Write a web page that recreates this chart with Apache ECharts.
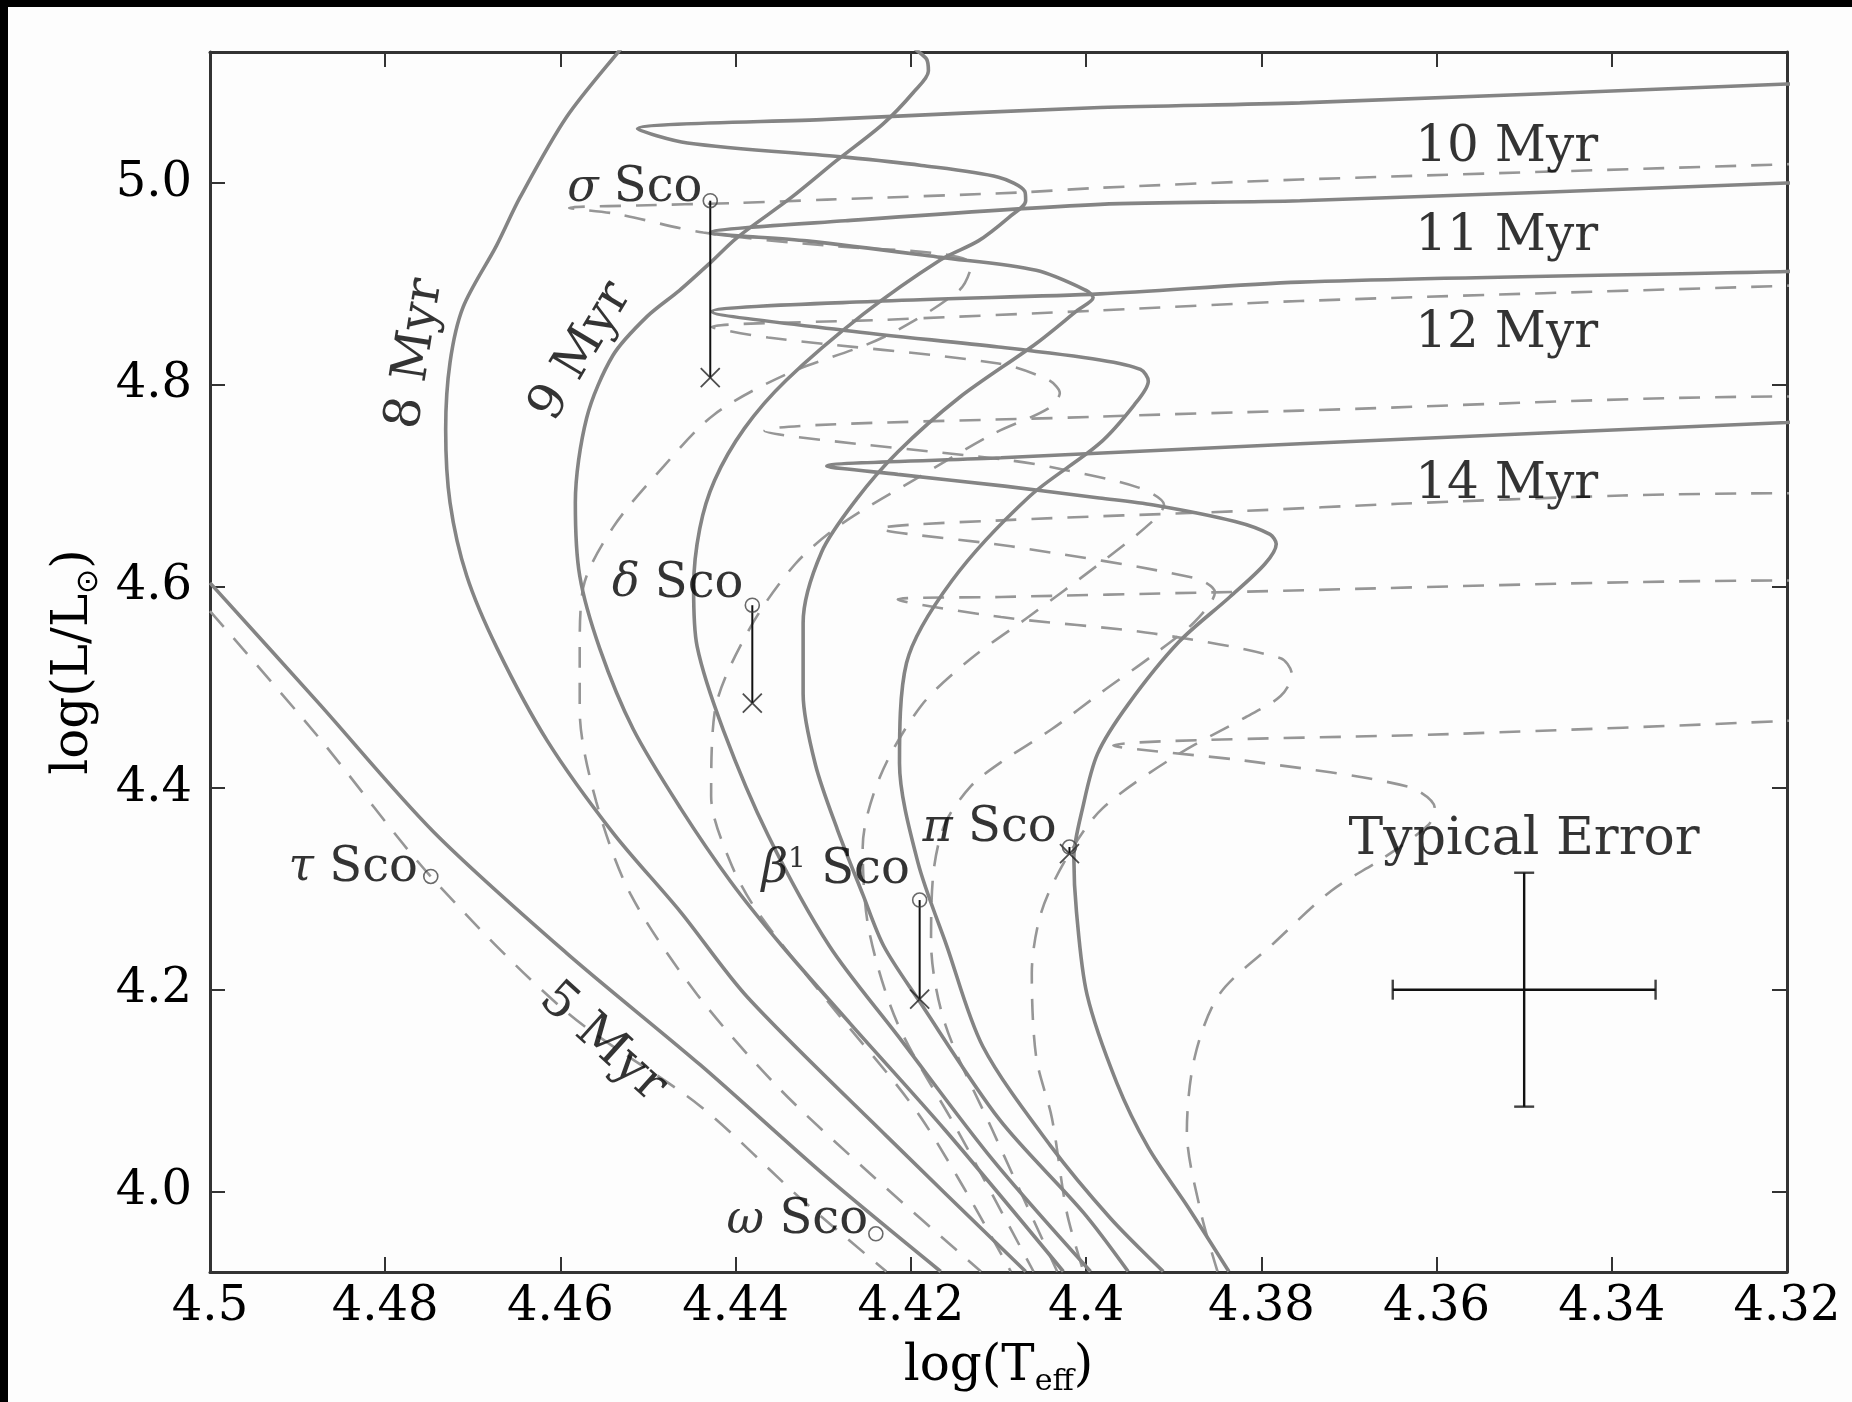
<!DOCTYPE html>
<html><head><meta charset="utf-8">
<script src="https://cdn.jsdelivr.net/npm/echarts@6/dist/echarts.min.js"></script>
<style>
html,body{margin:0;padding:0;background:#fff;}
#c{width:1852px;height:1402px;}
.bt{position:absolute;left:0;top:0;width:1852px;height:7px;background:#000;z-index:10}
.bl{position:absolute;left:0;top:0;width:8px;height:1402px;background:#000;z-index:10}
</style></head><body>
<div id="c"></div><div class="bt"></div><div class="bl"></div>
<script>
// ---- axis ticks ----
const xTicks = [4.5, 4.48, 4.46, 4.44, 4.42, 4.4, 4.38, 4.36, 4.34, 4.32];
const yTicks = [4.0, 4.2, 4.4, 4.6, 4.8, 5.0];

// ---- solid isochrones [logTeff, logL] ----
const iso5 = [[4.5000,4.6035],[4.4876,4.4842],[4.4745,4.3567],[4.4593,4.2363],[4.4440,4.1251],[4.4296,4.0140],[4.4166,3.9205]];
const iso8 = [[4.4521,5.1427],[4.4532,5.1322],[4.4593,5.0655],[4.4646,4.9860],[4.4673,4.9380],[4.4711,4.8772],[4.4726,4.8222],[4.4731,4.7556],[4.4726,4.6830],[4.4707,4.6105],[4.4672,4.5380],[4.4615,4.4468],[4.4540,4.3556],[4.4463,4.2772],[4.4387,4.1930],[4.4228,4.0550],[4.4069,3.9205]];
const iso9 = [[4.4208,5.1427],[4.4194,5.1322],[4.4182,5.1228],[4.4180,5.1111],[4.4197,5.0901],[4.4232,5.0585],[4.4285,5.0222],[4.4336,4.9860],[4.4398,4.9462],[4.4431,4.9193],[4.4464,4.8936],[4.4501,4.8678],[4.4540,4.8292],[4.4570,4.7673],[4.4583,4.6830],[4.4578,4.6105],[4.4555,4.5380],[4.4517,4.4585],[4.4463,4.3801],[4.4406,4.3076],[4.4347,4.2433],[4.4269,4.1661],[4.4161,4.0608],[4.4026,3.9205]];
const iso10 = [[4.3176,5.0994],[4.3200,5.0982],[4.3756,5.0795],[4.3984,5.0749],[4.4296,5.0632],[4.4512,5.0538],[4.4455,5.0398],[4.4275,5.0257],[4.4188,5.0175],[4.4100,5.0058],[4.4070,4.9918],[4.4069,4.9825],[4.4088,4.9661],[4.4123,4.9427],[4.4166,4.9240],[4.4254,4.8702],[4.4342,4.8047],[4.4390,4.7567],[4.4424,4.7053],[4.4441,4.6573],[4.4448,4.5988],[4.4444,4.5404],[4.4414,4.4573],[4.4363,4.3532],[4.4293,4.2433],[4.4215,4.1544],[4.4107,4.0316],[4.3995,3.9205]];
const iso11 = [[4.3176,5.0012],[4.3200,5.0000],[4.3756,4.9825],[4.3984,4.9789],[4.4275,4.9626],[4.4429,4.9509],[4.4319,4.9427],[4.4166,4.9263],[4.4057,4.9135],[4.4000,4.8936],[4.3992,4.8865],[4.4010,4.8737],[4.4057,4.8409],[4.4145,4.7871],[4.4215,4.7333],[4.4262,4.6865],[4.4302,4.6339],[4.4323,4.5637],[4.4323,4.4936],[4.4309,4.4234],[4.4284,4.3591],[4.4255,4.2947],[4.4231,4.2433],[4.4192,4.1907],[4.4099,4.0713],[4.4003,3.9789],[4.3952,3.9205]];
const iso12 = [[4.3176,4.9135],[4.3200,4.9123],[4.3756,4.9018],[4.3984,4.8901],[4.4232,4.8830],[4.4427,4.8725],[4.4275,4.8538],[4.4100,4.8374],[4.3984,4.8246],[4.3938,4.8152],[4.3929,4.8035],[4.3945,4.7801],[4.3985,4.7415],[4.4065,4.6889],[4.4153,4.6058],[4.4205,4.5240],[4.4213,4.4246],[4.4192,4.3263],[4.4159,4.2433],[4.4118,4.1439],[4.4041,4.0456],[4.3972,3.9731],[4.3912,3.9205]];
const iso14 = [[4.3176,4.7637],[4.3200,4.7626],[4.3756,4.7415],[4.4097,4.7275],[4.4296,4.7193],[4.4215,4.7111],[4.4093,4.6994],[4.3985,4.6877],[4.3923,4.6807],[4.3830,4.6643],[4.3790,4.6515],[4.3783,4.6421],[4.3796,4.6222],[4.3836,4.5895],[4.3894,4.5450],[4.3952,4.4830],[4.3987,4.4339],[4.4004,4.3801],[4.4014,4.3310],[4.4011,4.2772],[4.3999,4.1953],[4.3965,4.1076],[4.3929,4.0433],[4.3884,3.9848],[4.3837,3.9205]];

// ---- dashed isochrones ----
const dash5 = [[4.5000,4.5754],[4.4876,4.4503],[4.4748,4.3123],[4.4593,4.1778],[4.4440,4.0842],[4.4323,3.9906],[4.4228,3.9205]];
const dashA = [[4.3176,5.0199],[4.3200,5.0187],[4.3756,5.0035],[4.3984,4.9953],[4.4078,4.9906],[4.4296,4.9836],[4.4404,4.9801],[4.4512,4.9778],[4.4590,4.9754],[4.4537,4.9696],[4.4437,4.9509],[4.4296,4.9380],[4.4166,4.9298],[4.4131,4.9193],[4.4145,4.8936],[4.4232,4.8468],[4.4342,4.8105],[4.4424,4.7708],[4.4482,4.7193],[4.4540,4.6585],[4.4574,4.5988],[4.4578,4.5380],[4.4578,4.4772],[4.4559,4.3860],[4.4520,4.2947],[4.4444,4.1953],[4.4350,4.1018],[4.4242,4.0140],[4.4120,3.9205]];
const dashB = [[4.3176,4.8994],[4.3200,4.8982],[4.3756,4.8830],[4.3984,4.8737],[4.4232,4.8643],[4.4427,4.8573],[4.4363,4.8468],[4.4100,4.8211],[4.4043,4.8047],[4.4030,4.7918],[4.4043,4.7766],[4.4107,4.7509],[4.4188,4.7099],[4.4279,4.6620],[4.4332,4.6222],[4.4385,4.5567],[4.4424,4.4749],[4.4428,4.3918],[4.4406,4.3263],[4.4375,4.2772],[4.4296,4.1895],[4.4188,4.0725],[4.4086,3.9205]];
const dashC = [[4.3176,4.7883],[4.3200,4.7883],[4.3756,4.7743],[4.3984,4.7684],[4.4367,4.7544],[4.4088,4.7251],[4.4039,4.7181],[4.3941,4.6982],[4.3911,4.6807],[4.3926,4.6632],[4.3985,4.6222],[4.4066,4.5696],[4.4131,4.5287],[4.4188,4.4819],[4.4235,4.4117],[4.4255,4.3415],[4.4248,4.2596],[4.4215,4.1661],[4.4147,4.0608],[4.4060,3.9205]];
const dashD = [[4.3176,4.6924],[4.3200,4.6924],[4.3388,4.6901],[4.3644,4.6819],[4.3818,4.6749],[4.4097,4.6655],[4.4235,4.6573],[4.4086,4.6398],[4.3876,4.6082],[4.3853,4.5941],[4.3876,4.5649],[4.3923,4.5322],[4.3981,4.4959],[4.4039,4.4585],[4.4097,4.4257],[4.4131,4.4023],[4.4161,4.3649],[4.4174,4.3181],[4.4177,4.2479],[4.4161,4.1661],[4.4107,4.0608],[4.4033,3.9205]];
const dashE = [[4.3176,4.6058],[4.3200,4.6058],[4.3853,4.5941],[4.4097,4.5895],[4.4215,4.5871],[4.4097,4.5696],[4.3923,4.5532],[4.3778,4.5287],[4.3765,4.5123],[4.3778,4.4912],[4.3818,4.4702],[4.3894,4.4339],[4.3981,4.3801],[4.4022,4.3310],[4.4051,4.2772],[4.4062,4.2164],[4.4057,4.1333],[4.4039,4.0725],[4.4022,3.9789],[4.4003,3.9205]];
const dashF = [[4.3176,4.4702],[4.3200,4.4667],[4.3574,4.4538],[4.3969,4.4421],[4.3806,4.4257],[4.3632,4.4012],[4.3602,4.3801],[4.3609,4.3637],[4.3660,4.3310],[4.3720,4.2982],[4.3788,4.2444],[4.3848,4.1953],[4.3876,4.1333],[4.3885,4.0596],[4.3869,3.9789],[4.3850,3.9205]];

// ---- stars ----
const starGreek = ['σ', 'δ', 'β', 'π', 'τ', 'ω'];
const starSup = ['', '', '1', '', '', ''];
const starTeff = [4.4429, 4.4381, 4.4190, 4.4019, 4.4748, 4.4240];
const starLumHigh = [4.9825, 4.5813, 4.2889, 4.3415, 4.3123, 3.9579];
const starLumLow = [4.8070, 4.4842, 4.1906, 4.3350, null, null];

// ---- typical error ----
const errCenter = [4.35, 4.2];
const errTeff = 0.015;
const errLum = 0.116;

// ---- age labels ----
const ageText = ['5 Myr', '8 Myr', '9 Myr', '10 Myr', '11 Myr', '12 Myr', '14 Myr'];
const agePos = [[4.4552,4.1474],[4.4765,4.8304],[4.4576,4.8327],[4.3520,5.0351],[4.3520,4.9462],[4.3520,4.8503],[4.3520,4.7006]];
const ageRot = [-42, 81, 59, 0, 0, 0, 0];

const FONT = 'DejaVu Serif';
const INK = '#000';
const SOLID = '#848484';
const DASH = '#969696';

const chart = echarts.init(document.getElementById('c'));

function solid(d){ return {type:'line', data:d, symbol:'none', smooth:0.3, clip:true, z:3,
  lineStyle:{color:SOLID, width:3.6}, silent:true}; }
function dashed(d){ return {type:'line', data:d, symbol:'none', smooth:0.3, clip:true, z:2,
  lineStyle:{color:DASH, width:2.6, type:[21,15]}, silent:true}; }

const series = [];
[dash5, dashA, dashB, dashC, dashD, dashE, dashF].forEach(d => series.push(dashed(d)));
[iso5, iso8, iso9, iso10, iso11, iso12, iso14].forEach(d => series.push(solid(d)));

// star error bars
starTeff.forEach((t, i) => {
  if (starLumLow[i] !== null) {
    series.push({type:'line', data:[[t, starLumHigh[i]], [t, starLumLow[i]]], symbol:'none', z:5,
      lineStyle:{color:'#111', width:2}, silent:true});
  }
});
// crosses (lower estimates)
series.push({type:'scatter', z:6, symbol:'path://M0,0L20,20M20,0L0,20', symbolSize:19,
  itemStyle:{color:'none', borderColor:'#222', borderWidth:1.8},
  data: starTeff.map((t,i)=> starLumLow[i]===null ? null : [t, starLumLow[i]]).filter(v=>v)});
// circles with labels
const labelOffsets = [[0,-12],[-1,-21],[-2,-30],[-5,-18],[-5,-8],[0,-13]];
const starRich = {g:{fontFamily:FONT, fontStyle:'italic', fontSize:46, color:INK},
                  n:{fontFamily:FONT, fontSize:28, color:INK, verticalAlign:'top', lineHeight:28},
                  r:{fontFamily:FONT, fontSize:48, color:INK}};
series.push({type:'scatter', z:7, symbol:'circle', symbolSize:14,
  itemStyle:{color:'rgba(255,255,255,0)', borderColor:'#444', borderWidth:1.6},
  data: starTeff.map((t,i)=>({value:[t, starLumHigh[i]],
    label:{show:true, position:'left', distance:0, offset:labelOffsets[i],
      formatter:'{g|' + starGreek[i] + '}' + (starSup[i] ? '{n|' + starSup[i] + '}' : '') + '{r| Sco}',
      rich:starRich}}))
});

// typical error cross
series.push({type:'line', data:[[errCenter[0]-errTeff, errCenter[1]], [errCenter[0]+errTeff, errCenter[1]]],
  symbol:'none', z:5, lineStyle:{color:'#111', width:2.4}, silent:true});
series.push({type:'line', data:[[errCenter[0], errCenter[1]-errLum], [errCenter[0], errCenter[1]+errLum]],
  symbol:'none', z:5, lineStyle:{color:'#111', width:2.4}, silent:true});
series.push({type:'scatter', z:5, symbol:'rect', symbolSize:[2.4,20], itemStyle:{color:'#111'},
  data:[[errCenter[0]-errTeff, errCenter[1]], [errCenter[0]+errTeff, errCenter[1]]]});
series.push({type:'scatter', z:5, symbol:'rect', symbolSize:[20,2.4], itemStyle:{color:'#111'},
  data:[[errCenter[0], errCenter[1]-errLum], [errCenter[0], errCenter[1]+errLum]]});
series.push({type:'scatter', z:8, symbolSize:0.1, itemStyle:{color:'rgba(0,0,0,0)'},
  data:[[errCenter[0], 4.3480]],
  label:{show:true, position:'inside', formatter:'Typical Error', fontFamily:FONT, fontSize:52, color:INK}});

// age labels
series.push({type:'scatter', z:8, symbolSize:0.1, itemStyle:{color:'rgba(0,0,0,0)'},
  data: agePos.map((p,i)=>({value:p, label:{show:true, position:'inside', rotate:ageRot[i],
    formatter: ageText[i], fontFamily:FONT, fontSize:50, color:INK}}))});

const axisLineStyle = {color:'#333', width:3};
const tickStyle = {show:true, inside:true, length:15, lineStyle:{color:'#333', width:2}};
const xFmt = v => String(parseFloat(Number(v).toFixed(2)));

chart.setOption({
  animation:false,
  backgroundColor:'#fdfdfd',
  grid:{left:210, top:52, right:65, bottom:125},
  xAxis:[{
    type:'value', min:4.32, max:4.5, inverse:true, position:'bottom',
    axisLine:{show:true, onZero:false, lineStyle:axisLineStyle},
    axisTick:Object.assign({customValues:xTicks}, tickStyle),
    axisLabel:{customValues:xTicks, formatter:xFmt, fontFamily:FONT, fontSize:48, color:INK, margin:12},
    splitLine:{show:false},
    name:'{a|log(T}{s|eff}{a|)}', nameLocation:'middle', nameGap:65,
    nameTextStyle:{rich:{a:{fontFamily:FONT, fontSize:50, color:INK, lineHeight:60, verticalAlign:'middle'},
                         s:{fontFamily:FONT, fontSize:30, color:INK, lineHeight:30, verticalAlign:'bottom'}}}
  },{
    type:'value', min:4.32, max:4.5, inverse:true, position:'top',
    axisLine:{show:true, onZero:false, lineStyle:axisLineStyle},
    axisTick:Object.assign({customValues:xTicks}, tickStyle),
    axisLabel:{show:false}, splitLine:{show:false}
  }],
  yAxis:[{
    type:'value', min:3.92, max:5.13, position:'left',
    axisLine:{show:true, onZero:false, lineStyle:axisLineStyle},
    axisTick:Object.assign({customValues:yTicks}, tickStyle),
    axisLabel:{customValues:yTicks, formatter:v=>Number(v).toFixed(1), fontFamily:FONT, fontSize:48, color:INK, margin:18},
    splitLine:{show:false},
    name:'{a|log(L/L}{s|⊙}{a|)}', nameLocation:'middle', nameGap:106,
    nameTextStyle:{rich:{a:{fontFamily:FONT, fontSize:50, color:INK, lineHeight:60, verticalAlign:'middle'},
                         s:{fontFamily:'DejaVu Sans', fontSize:30, color:INK, lineHeight:30, verticalAlign:'bottom'}}}
  },{
    type:'value', min:3.92, max:5.13, position:'right',
    axisLine:{show:true, onZero:false, lineStyle:axisLineStyle},
    axisTick:Object.assign({customValues:yTicks}, tickStyle),
    axisLabel:{show:false}, splitLine:{show:false}
  }],
  series: series
});
</script></body></html>
